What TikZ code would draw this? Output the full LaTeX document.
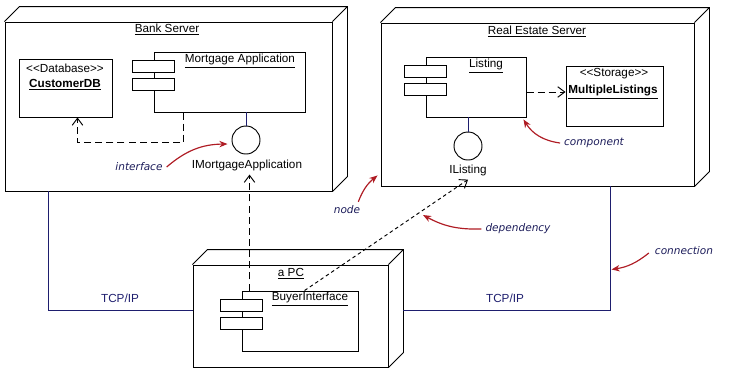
\documentclass[tikz,border=0pt]{standalone}
\usepackage{fontspec}
\setmainfont{Liberation Sans}
\newfontfamily\notefont{DejaVu Sans}
\usetikzlibrary{arrows.meta,calc}

\definecolor{linknavy}{RGB}{30,30,110}
\definecolor{notenavy}{RGB}{28,28,90}
\definecolor{notered}{RGB}{175,28,36}

\begin{document}
\begin{tikzpicture}[x=0.03cm,y=-0.03cm,
  font=\fontsize{10}{12}\selectfont,
  box/.style={draw, line width=0.8pt, inner sep=0pt},
  tab/.style={draw, fill=white, line width=0.8pt, minimum width=1.26cm, minimum height=0.36cm, inner sep=0pt},
  iface/.style={draw, circle, line width=0.8pt, minimum size=0.84cm, inner sep=0pt},
  dep/.style={line width=0.8pt, dash pattern=on 6pt off 3.5pt, -{Straight Barb[length=6pt,width=9pt]}},
  conn/.style={linknavy, line width=0.8pt},
  note/.style={notenavy, font=\notefont\itshape\fontsize{9}{11}\selectfont},
  pointer/.style={notered, line width=1pt, -{Stealth[length=7pt,width=5.5pt]}},
]
\useasboundingbox (0,0) rectangle (750,379);

% deployment nodes
\node[box, minimum width=9.81cm, minimum height=5.07cm] (bank) at (168.5,106.5) {};
\node[box, minimum width=9.39cm, minimum height=4.89cm] (estate) at (537.5,104.5) {};
\node[box, minimum width=5.85cm, minimum height=3.06cm] (pc) at (290.5,316) {};
\foreach \n in {bank,estate,pc}
  \draw[line width=0.8pt] (\n.north west) -- ++(15,-15) -| ($(\n.south east)+(15,-15)$) -- (\n.south east)
    (\n.north east) -- ++(15,-15);
\node (banktitle) at (167,29) {\underline{Bank Server}};
\node (estatetitle) at (537,31) {\underline{Real Estate Server}};
\node (pctitle) at (291,274) {\underline{a PC}};

% components
\node[box, minimum width=4.53cm, minimum height=1.8cm] (mortgage) at (229.5,82) {};
\node[box, minimum width=3cm, minimum height=1.8cm] (listing) at (476,87) {};
\node[box, minimum width=3.48cm, minimum height=1.8cm] (buyer) at (300,321) {};
\foreach \c in {mortgage,listing,buyer}
  \foreach \dy in {15,33}
    \node[tab] (\c-tab\dy) at ($(\c.north west)+(0,\dy)$) {};
\node (mortgagename) at (240,61) {\underline{Mortgage Application}};
\node (listingname) at (486,66) {\underline{Listing}};
\node (buyername) at (310,299) {\underline{BuyerInterface}};

% storage
\node[box, minimum width=2.79cm, minimum height=1.74cm] (customerdb) at (65.5,88) {};
\node (dbtype) at (65,68) {<{}<Database>{}>};
\node (dbname) at (65,85) {\textbf{\underline{CustomerDB}}};
\node[box, minimum width=2.91cm, minimum height=1.8cm] (multiple) at (614.5,96) {};
\node (storetype) at (614,74) {<{}<Storage>{}>};
\node (storename) at (613,92) {\textbf{\underline{MultipleListings}}};

% interfaces
\node[iface] (mortiface) at (246,140) {};
\node (mortifacename) at (247,165) {IMortgageApplication};
\node[iface] (listiface) at (468,146) {};
\node (listifacename) at (468,170) {IListing};
\draw[conn] (mortiface.north) -- (mortiface.north |- mortgage.south);
\draw[conn] (listiface.north) -- (listiface.north |- listing.south);

% dependencies
\draw[dep] ($(mortgage.south west)+(30,0)$) -- ++(0,30) -| ($(customerdb.south)+(12,0)$);
\draw[dep] (listing.east |- storename) -- (multiple.west |- storename);
\coordinate (buyerup) at ($(buyer.north west)+(8,0)$);
\draw[dep] (buyerup) -- (buyerup |- mortifacename.south);
\draw[dep, dash pattern=on 3pt off 2.5pt] ($(buyer.north west)+(63,0)$) -- (listifacename.south);

% connections
\draw[conn] ($(bank.south west)+(44,0)$) |- ($(pc.south west)+(0,-57)$);
\draw[conn] ($(pc.south east)+(15,-57)$) -| ($(estate.south west)+(230,0)$);
\node[linknavy] (tcpleft) at (120,298) {TCP/IP};
\node[linknavy] (tcpright) at (505,298) {TCP/IP};

% annotations
\node[note] (ifacenote) at (139,167) {interface};
\node[note] (compnote) at (594,143) {component};
\node[note] (nodenote) at (347,210) {node};
\node[note] (depnote) at (518,229) {dependency};
\node[note] (connnote) at (684,251) {connection};
\draw[pointer] (ifacenote.east) to[bend left=20] ($(mortiface.west)+(-4,4)$);
\draw[pointer] (compnote.west) to[bend left=25] ($(listing.south east)+(-3,2)$);
\draw[pointer] ($(nodenote.north east)+(-6,0)$) to[bend left=15] ($(estate.south west)+(-3,-11)$);
\draw[pointer] (depnote.west) to[bend left=15] (423,215);
\draw[pointer] ($(connnote.west)+(-2,2)$) to[bend left=15] ($(estate.south west)+(231,83)$);
\end{tikzpicture}
\end{document}
